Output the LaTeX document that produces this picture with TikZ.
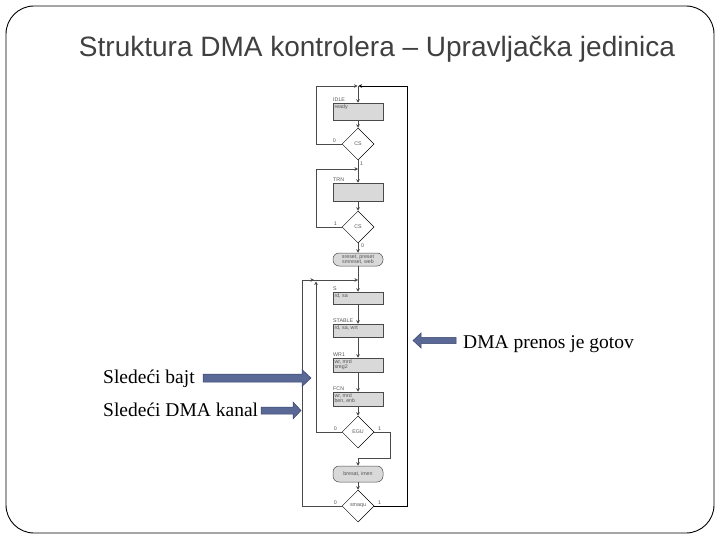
\documentclass[tikz,border=0pt]{standalone}
\usepackage{fontspec}
\setmainfont{Liberation Serif}
\newfontfamily\arialf{Liberation Sans}
\usetikzlibrary{shapes.geometric,arrows.meta}
\definecolor{titlegray}{HTML}{404040}
\definecolor{boxgray}{HTML}{D9D9D9}
\definecolor{linegray}{HTML}{4A4A4A}
\definecolor{arrfill}{RGB}{90,104,150}
\definecolor{arredge}{RGB}{58,68,108}
\definecolor{smallgray}{HTML}{555555}
\newcommand\BoxTxt[2]{\parbox[c][#1][t]{47pt}{#2}}
\newcommand\tinyfont{\arialf\fontsize{5.3}{5.6}\selectfont}
\begin{document}
\begin{tikzpicture}[x=1pt,y=-1pt,
  fbox/.style={draw=linegray, fill=boxgray, line width=0.5pt, inner sep=1.2pt, minimum width=50pt, font=\tinyfont, text=smallgray},
  rbox/.style={draw=linegray, fill=boxgray, line width=0.5pt, rounded corners=6pt, inner sep=0.8pt, minimum width=50pt, align=center, font=\tinyfont, text=smallgray},
  dia/.style={diamond, draw=black, line width=0.5pt, fill=white, inner sep=0pt, minimum width=32pt, minimum height=32pt, font=\tinyfont, text=smallgray},
  small/.style={font=\tinyfont, text=smallgray, inner sep=0pt},
  flow/.style={draw=linegray, line width=0.6pt},
  flowa/.style={flow, -{Stealth[length=3.5pt,width=3.5pt]}},
  fat/.style={fill=arrfill, draw=arredge, line width=0.5pt},
  lbl/.style={font=\fontsize{19.5}{22}\selectfont, inner sep=0pt, text=black}
]
\useasboundingbox (0,0) rectangle (720,540);
\draw[line width=0.9pt, rounded corners=28pt] (6,6) rectangle (714,533);

\node[font=\arialf\fontsize{28}{32}\selectfont, text=titlegray, anchor=base, inner sep=0pt] (title) at (377,57) {Struktura DMA kontrolera – Upravljačka jedinica};

% flowchart nodes
\node[fbox] (b1) at (358,111.5) {\BoxTxt{14.6pt}{ready}};
\node[dia] (d1) at (358,144) {CS};
\node[fbox] (b2) at (358,192) {\BoxTxt{15.6pt}{}};
\node[dia] (d2) at (358,227) {CS};
\node[rbox, minimum height=13pt] (r1) at (358,259.5) {sreset, preset\\smreset, web};
\node[fbox] (b3) at (358,298) {\BoxTxt{9.6pt}{rd, sa}};
\node[fbox] (b4) at (358,330.5) {\BoxTxt{10.6pt}{rd, sa, wrt}};
\node[fbox] (b5) at (358,365) {\BoxTxt{11.6pt}{wr, mrd\\sreg2}};
\node[fbox] (b6) at (358,399) {\BoxTxt{11.6pt}{wr, mrd\\ben, enb}};
\node[dia] (d3) at (358,432) {EGU};
\node[rbox, minimum height=16pt] (r2) at (358,474) {bresat, imen};
\node[dia] (d4) at (358,506) {smaqu};

% state labels
\node[small, anchor=south west] (s1) at (333,102) {IDLE};
\node[small, anchor=south west] (s2) at (333,182) {TRN};
\node[small, anchor=south west] (s3) at (333,291) {S};
\node[small, anchor=south west] (s4) at (333,323) {STABLE};
\node[small, anchor=south west] (s5) at (333,357) {WR1};
\node[small, anchor=south west] (s6) at (333,391) {FCN};

% corner coordinates
\coordinate (j1) at (358,86);
\coordinate (j2) at (358,169);
\coordinate (j3) at (358,280);
\coordinate (j4) at (358,458);
\coordinate (c1) at (316,86);
\coordinate (c2) at (407,86);
\coordinate (c3) at (316,169);
\coordinate (c4) at (302,280);
\coordinate (c5) at (316,281.5);
\coordinate (c6) at (390,458);
\coordinate (c7) at (314,280);

% connectors
\draw[flowa] (d1.west) -| (c1) -- ([xshift=-0.5pt]j1);
\draw[flowa, draw=black] (d4.east) -| (c2) -- ([xshift=0.5pt]j1);
\draw[flowa] (j1) -- (b1);
\draw[flowa] (b1) -- (d1);
\draw[flow] (d1) -- (j2);
\draw[flowa] (d2.west) -| (c3) -- (j2);
\draw[flowa] (j2) -- (b2);
\draw[flowa] (b2) -- (d2);
\draw[flowa] (d2) -- (r1);
\draw[flow] (r1) -- (j3);
\draw[flowa] (d4.west) -| (c4) -- (j3);
\draw[flowa] (c4) -- (c7);
\draw[flowa] (d3.west) -| (c5);
\draw[flowa] (j3) -- (b3);
\draw[flowa] (b3) -- (b4);
\draw[flowa] (b4) -- (b5);
\draw[flowa] (b5) -- (b6);
\draw[flowa] (b6) -- (d3);
\draw[flowa] (d3.east) -| (c6) -- (j4) -- (r2);
\draw[flowa] (r2) -- (d4);

% branch labels
\node[small, anchor=south east] (o1) at (336,143) {0};
\node[small, anchor=north west] (o2) at (360,162) {1};
\node[small, anchor=south east] (o3) at (337,226) {1};
\node[small, anchor=north west] (o4) at (361,244) {0};
\node[small, anchor=south east] (o5) at (337,431) {0};
\node[small, anchor=south west] (o6) at (378,431) {1};
\node[small, anchor=south east] (o7) at (337,505) {0};
\node[small, anchor=south west] (o8) at (378,505) {1};

% side texts
\node[lbl, anchor=base west] (t1) at (463,348) {DMA prenos je gotov};
\node[lbl, anchor=base west] (t2) at (103,383) {Sledeći bajt};
\node[lbl, anchor=base west] (t3) at (103,416) {Sledeći DMA kanal};

% fat arrows
\coordinate (a1tip) at (413,340.5);
\coordinate (a2tip) at (311,378);
\coordinate (a3tip) at (301,410.5);
\draw[fat] (a1tip) -- ++(8,-7.5) -- ++(0,4.3) -- (456,337.3) -- (456,343.7) -- (421,343.7) -- ++(0,4.3) -- cycle;
\draw[fat] (a2tip) -- ++(-9,-8.5) -- ++(0,4.5) -- (203,374) -- (203,382) -- (302,382) -- ++(0,4.5) -- cycle;
\draw[fat] (a3tip) -- ++(-8,-8.5) -- ++(0,5) -- (261,407) -- (261,414) -- (293,414) -- ++(0,5) -- cycle;
\end{tikzpicture}
\end{document}
